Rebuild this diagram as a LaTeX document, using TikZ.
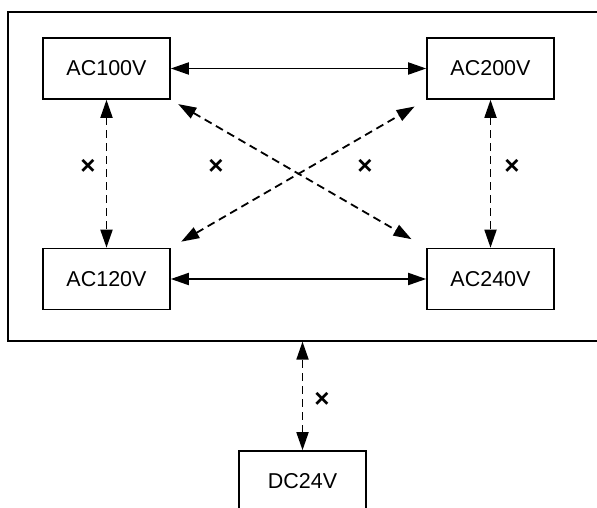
\documentclass[tikz,border=0pt]{standalone}
\usepackage{fontspec}
\setmainfont{Liberation Sans}
\usetikzlibrary{arrows.meta}

\begin{document}
\begin{tikzpicture}[
  x=0.5pt, y=-0.5pt,
  font=\fontsize{10.75}{13}\selectfont,
  supply/.style={
    rectangle, draw=black, line width=0.8pt,
    minimum width=63.5pt, minimum height=30.5pt,
    inner sep=0pt
  },
  frame/.style={
    rectangle, draw=black, line width=0.6pt,
    minimum width=306pt, minimum height=164.5pt,
    inner sep=0pt
  },
  both/.style={{Triangle[length=9pt,width=6pt]}-{Triangle[length=9pt,width=6pt]},
    line width=0.9pt, black},
  nogo/.style={both, dash pattern=on 4pt off 2.5pt},
  cross/.style={inner sep=0pt, font=\fontsize{13}{15}\selectfont\bfseries}
]
\useasboundingbox (0,0) rectangle (597,507);

\node[frame] (panel) at (314,176.5) {};

\node[supply] (a100) at (106.5,68.5) {AC100V};
\node[supply] (a200) at (490.5,68.5) {AC200V};
\node[supply] (a120) at (106.5,279) {AC120V};
\node[supply] (a240) at (490.5,279) {AC240V};
\node[supply] (dc24) at (302.5,481.5) {DC24V};

\draw[both] (a100.east) -- (a200.west);
\draw[both] (a120.east) -- (a240.west);

\draw[nogo] (a100.south) -- (a120.north);
\draw[nogo] (a200.south) -- (a240.north);
\draw[nogo, shorten <=4.3pt, shorten >=8.5pt] (a100.south east) -- (a240.north west);
\draw[nogo, shorten <=6pt, shorten >=6.7pt] (a120.north east) -- (a200.south west);
\draw[nogo] (dc24.north) -- (dc24.north |- panel.south);

% not allowed
\node[cross] (x1) at (88,167) {×};
\node[cross] (x2) at (216,167) {×};
\node[cross] (x3) at (365,167) {×};
\node[cross] (x4) at (512,167) {×};
\node[cross] (x5) at (322,400) {×};
\end{tikzpicture}
\end{document}
